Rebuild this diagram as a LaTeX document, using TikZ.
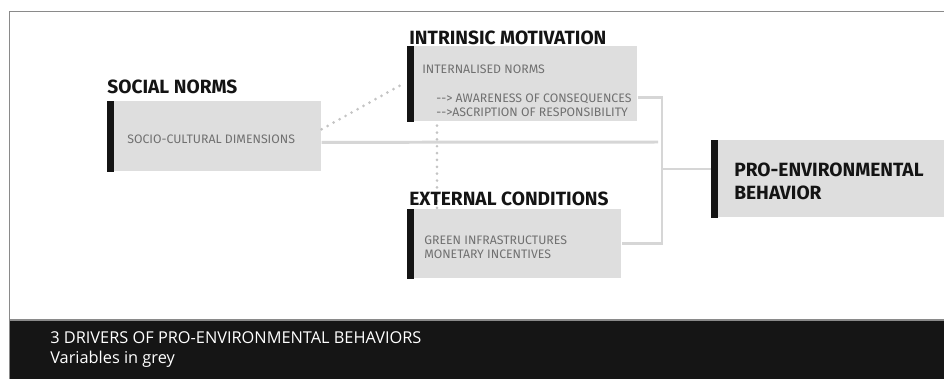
\documentclass[tikz,border=0pt]{standalone}
\usepackage{fontspec}
\setmainfont{Open Sans}
\newfontfamily\headfont{Fira Sans}
\usetikzlibrary{calc}

\definecolor{boxgrey}{HTML}{DEDEDE}
\definecolor{bargrey}{HTML}{141414}
\definecolor{textgrey}{HTML}{707070}
\definecolor{linkgrey}{HTML}{D6D6D6}
\definecolor{dotgrey}{HTML}{C4C4C4}
\definecolor{framegrey}{HTML}{8A8A8A}
\definecolor{bandblack}{HTML}{151515}

\tikzset{
  var/.style={fill=boxgrey, inner sep=0pt, anchor=north west},
  title/.style={anchor=base west, inner sep=0pt, text=bargrey,
    font=\headfont\bfseries\fontsize{10.9}{13}\selectfont},
  item/.style={anchor=base west, inner sep=0pt, text=textgrey,
    font=\headfont\fontsize{7}{8.5}\selectfont},
  link/.style={linkgrey, line width=1.7pt},
  dots/.style={dotgrey, line width=1.7pt, line cap=round, dash pattern=on 0pt off 3.9pt},
}
% black bar on the left edge of a variable box
\newcommand{\varbar}[1]{\fill[bargrey] (#1.north west) rectangle ($(#1.south west)+(7,0)$);}

\begin{document}
\begin{tikzpicture}[x=0.02cm, y=-0.02cm]
  \useasboundingbox (0,0) rectangle (944,379);
  \fill[white] (0,0) rectangle (944,379);
  % frame and caption band
  \draw[framegrey, line width=0.8pt] (9.5,379) -- (9.5,11.5) -- (944,11.5);
  \fill[bandblack] (9.5,320) rectangle (944,379);
  \draw[framegrey, line width=0.8pt] (9.5,320) -- (944,320);
  \node[anchor=north west, inner sep=0pt, align=left, text=white,
    font=\fontsize{9.3}{11.5}\selectfont] (cap) at (50,331)
    {3 DRIVERS OF PRO-ENVIRONMENTAL BEHAVIORS\\Variables in grey};

  % variable boxes
  \node[var, minimum width=4.28cm, minimum height=1.40cm] (soc) at (107,101) {};
  \node[var, minimum width=4.60cm, minimum height=1.50cm] (intr) at (407,46) {};
  \node[var, minimum width=4.28cm, minimum height=1.38cm] (ext) at (407,209) {};
  \node[var, minimum width=4.66cm, minimum height=1.54cm] (pro) at (711,140) {};
  \varbar{soc} \varbar{intr} \varbar{ext} \varbar{pro}

  % links towards the behaviour
  \coordinate (join) at (662,169);
  \coordinate (socend) at (658,142);
  \draw[link] ([yshift=-0.12cm]soc.east) -- (socend);
  \draw[link] ([yshift=-0.27cm]intr.east) -| (join) |- (ext.east);
  \draw[link] (join) -- (join -| pro.west);
  % dotted links between the drivers
  \draw[dots] ($(soc.north east)!0.4!(soc.south east)$) -- ([xshift=-0.08cm]intr.west);
  \draw[dots] ($(intr.south west)+(30,4)$) -- ($(ext.north west)+(30,0)$);

  % headings
  \node[title] (socH) at (107,93) {SOCIAL NORMS};
  \node[title] (intrH) at (409,44) {INTRINSIC MOTIVATION};
  \node[title] (extH) at (409,205) {EXTERNAL CONDITIONS};
  \node[title] (proA) at (734,176) {PRO-ENVIRONMENTAL};
  \node[title] (proB) at (734,199) {BEHAVIOR};

  % variables
  \node[item] (socA) at (127,143) {SOCIO-CULTURAL DIMENSIONS};
  \node[item] (intrA) at (422,73) {INTERNALISED NORMS};
  \node[item] (intrB) at (436,102) {-{}-> AWARENESS OF CONSEQUENCES};
  \node[item] (intrC) at (436,116) {-{}->ASCRIPTION OF RESPONSIBILITY};
  \node[item] (extA) at (424,244) {GREEN INFRASTRUCTURES};
  \node[item] (extB) at (424,258) {MONETARY INCENTIVES};
\end{tikzpicture}
\end{document}
